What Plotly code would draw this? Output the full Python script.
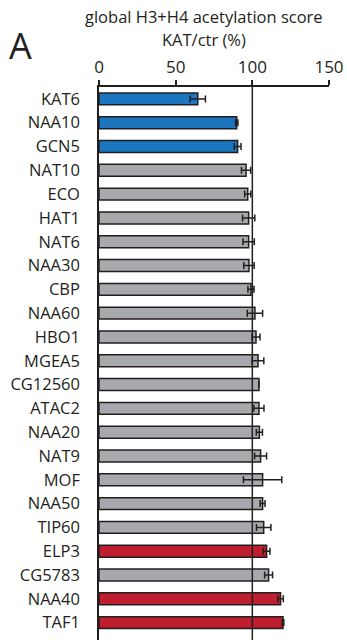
import plotly.graph_objects as go

# KAT knockdowns, top to bottom
categories = ["KAT6", "NAA10", "GCN5", "NAT10", "ECO", "HAT1", "NAT6", "NAA30",
              "CBP", "NAA60", "HBO1", "MGEA5", "CG12560", "ATAC2", "NAA20", "NAT9",
              "MOF", "NAA50", "TIP60", "ELP3", "CG5783", "NAA40", "TAF1"]
# global H3+H4 acetylation score, KAT/ctr (%)
values = [64.4, 89.8, 90.4, 95.9, 97.0, 97.6, 97.6, 97.8,
          99.1, 101.7, 102.4, 103.7, 104.3, 104.3, 104.6, 105.4,
          106.7, 106.7, 107.4, 109.3, 110.6, 118.4, 120.0]
errors = [5.0, 0.8, 2.2, 3.0, 2.0, 4.0, 3.7, 3.4,
          2.0, 5.0, 2.6, 3.8, 0.0, 3.3, 2.0, 3.9,
          12.5, 1.6, 4.7, 2.2, 2.6, 1.8, 0.5]
# d = decreased, n = no change, i = increased
groups = ["d", "d", "d", "n", "n", "n", "n", "n",
          "n", "n", "n", "n", "n", "n", "n", "n",
          "n", "n", "n", "i", "n", "i", "i"]
x_ticks = [0, 50, 100, 150]

palette = {"d": "#1b75bf", "n": "#a7a9ac", "i": "#be1e2d"}
ink = "#231f20"
font_family = "Open Sans"

positions = list(range(len(categories)))

fig = go.Figure(go.Bar(
    x=values,
    y=positions,
    orientation="h",
    width=0.5,
    marker=dict(color=[palette[g] for g in groups],
                line=dict(color=ink, width=1.5)),
    error_x=dict(type="data", array=errors, visible=True,
                 color=ink, thickness=1.5, width=3.5),
))

# reference line at 100 %
fig.add_shape(type="line", xref="x", yref="paper", x0=100, x1=100, y0=0, y1=1,
              line=dict(color=ink, width=1.5), layer="above")

fig.update_layout(
    width=347, height=640,
    margin=dict(l=98.5, r=18, t=87, b=0),
    plot_bgcolor="white", paper_bgcolor="white",
    showlegend=False,
    font=dict(family=font_family, color=ink),
    xaxis=dict(side="top", range=[0, 150], tickvals=x_ticks,
               ticktext=[str(t) for t in x_ticks],
               ticks="outside", ticklen=5, tickwidth=1.5, tickcolor=ink,
               showline=True, linecolor=ink, linewidth=1.5,
               showgrid=False, zeroline=False,
               tickfont=dict(size=17, color=ink)),
    yaxis=dict(range=[22.73, -0.5], tickvals=positions, ticktext=categories,
               ticks="", showline=True, linecolor=ink, linewidth=1.5,
               showgrid=False, zeroline=False,
               ticklabelstandoff=14,
               tickfont=dict(size=16.5, color=ink)),
    annotations=[
        dict(text="global H3+H4 acetylation score", xref="paper", yref="paper",
             x=0.458, y=1.1266, xanchor="center", yanchor="middle",
             showarrow=False, font=dict(size=16.5, color=ink)),
        dict(text="KAT/ctr (%)", xref="paper", yref="paper",
             x=0.458, y=1.085, xanchor="center", yanchor="middle",
             showarrow=False, font=dict(size=16.5, color=ink)),
        dict(text="A", xref="paper", yref="paper",
             x=(19.5 - 98.5) / 230.5, y=1 + (87 - 45) / 553,
             xanchor="center", yanchor="middle",
             showarrow=False, font=dict(size=36, color=ink)),
    ],
)

fig.write_html("out.html")
